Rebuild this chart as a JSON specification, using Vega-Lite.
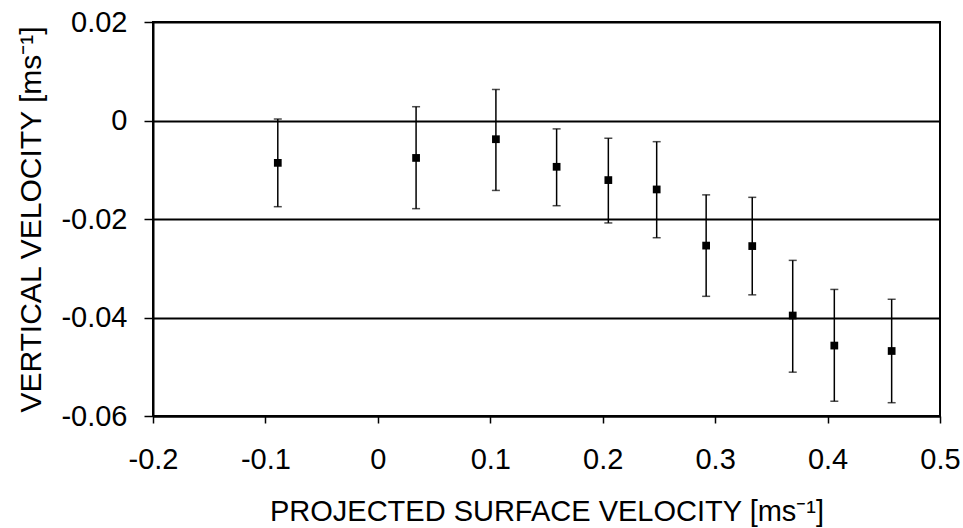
{
  "$schema": "https://vega.github.io/schema/vega-lite/v6.json",
  "width": 787,
  "height": 394,
  "autosize": {"type": "none"},
  "padding": {"left": 153, "top": 22, "right": 23, "bottom": 112},
  "background": "white",
  "config": {
    "font": "Liberation Sans",
    "view": {"stroke": "black", "strokeWidth": 2},
    "axis": {
      "labelFont": "Liberation Sans",
      "titleFont": "Liberation Sans",
      "labelColor": "black",
      "titleColor": "black",
      "titleFontWeight": "normal",
      "domainColor": "black",
      "tickColor": "black",
      "domainWidth": 2,
      "tickWidth": 1.5
    }
  },
  "data": {
    "values": [
      {"x": -0.089, "y": -0.0086, "lo": -0.0175, "hi": 0.0003},
      {"x": 0.034, "y": -0.0076, "lo": -0.0179, "hi": 0.0028},
      {"x": 0.105, "y": -0.0038, "lo": -0.0142, "hi": 0.0063},
      {"x": 0.159, "y": -0.0094, "lo": -0.0173, "hi": -0.0017},
      {"x": 0.205, "y": -0.0121, "lo": -0.0208, "hi": -0.0036},
      {"x": 0.248, "y": -0.014, "lo": -0.0238, "hi": -0.0043},
      {"x": 0.292, "y": -0.0254, "lo": -0.0357, "hi": -0.0151},
      {"x": 0.333, "y": -0.0255, "lo": -0.0354, "hi": -0.0156},
      {"x": 0.369, "y": -0.0396, "lo": -0.0511, "hi": -0.0284},
      {"x": 0.406, "y": -0.0457, "lo": -0.057, "hi": -0.0343},
      {"x": 0.457, "y": -0.0468, "lo": -0.0573, "hi": -0.0363}
    ]
  },
  "layer": [
    {
      "mark": {"type": "rule", "color": "black", "strokeWidth": 1.5},
      "encoding": {
        "x": {
          "field": "x", "type": "quantitative",
          "scale": {"domain": [-0.2, 0.5], "nice": false},
          "axis": {
            "values": [-0.2, -0.1, 0, 0.1, 0.2, 0.3, 0.4, 0.5],
            "labelExpr": "replace(format(datum.value, '~g'), '−', '-')",
            "grid": false,
            "tickSize": 7,
            "labelFontSize": 29,
            "labelPadding": 22,
            "labelFlush": false,
            "title": "PROJECTED SURFACE VELOCITY [ms⁻¹]",
            "titleFontSize": 29,
            "titlePadding": 23
          }
        },
        "y": {
          "field": "lo", "type": "quantitative",
          "scale": {"domain": [-0.06, 0.02], "nice": false},
          "axis": {
            "values": [-0.06, -0.04, -0.02, 0, 0.02],
            "labelExpr": "replace(format(datum.value, '~g'), '−', '-')",
            "grid": true,
            "gridColor": "black",
            "gridWidth": 2,
            "gridOpacity": 1,
            "tickSize": 9,
            "labelFontSize": 29,
            "labelPadding": 17,
            "labelFlush": false,
            "title": "VERTICAL VELOCITY [ms⁻¹]",
            "titleFontSize": 30,
            "titlePadding": 14
          }
        },
        "y2": {"field": "hi"}
      }
    },
    {
      "mark": {"type": "tick", "color": "black", "orient": "horizontal", "size": 8, "thickness": 1.5},
      "encoding": {
        "x": {"field": "x", "type": "quantitative"},
        "y": {"field": "lo", "type": "quantitative"}
      }
    },
    {
      "mark": {"type": "tick", "color": "black", "orient": "horizontal", "size": 8, "thickness": 1.5},
      "encoding": {
        "x": {"field": "x", "type": "quantitative"},
        "y": {"field": "hi", "type": "quantitative"}
      }
    },
    {
      "mark": {"type": "square", "color": "black", "filled": true, "opacity": 1, "size": 60},
      "encoding": {
        "x": {"field": "x", "type": "quantitative"},
        "y": {"field": "y", "type": "quantitative"}
      }
    }
  ]
}
